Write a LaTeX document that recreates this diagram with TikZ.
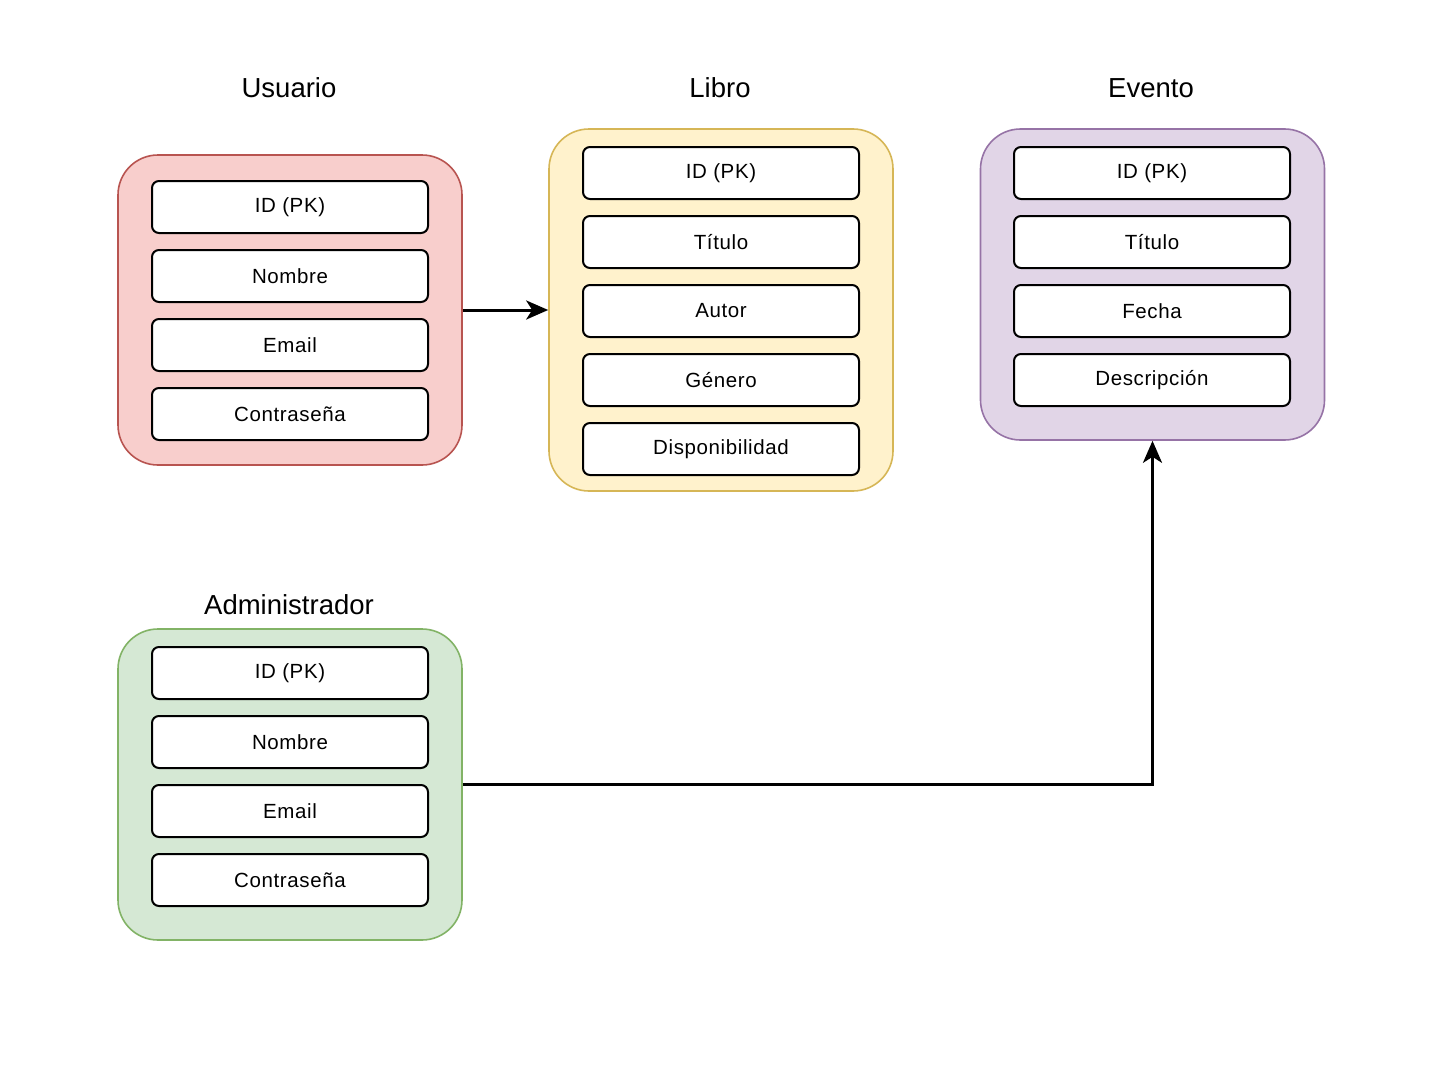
\documentclass[tikz,border=0pt]{standalone}
\usepackage{fontspec}
\setmainfont{Liberation Sans}
\usetikzlibrary{arrows.meta}
\definecolor{redF}{HTML}{F8CECC}\definecolor{redS}{HTML}{B85450}
\definecolor{yelF}{HTML}{FFF2CC}\definecolor{yelS}{HTML}{D6B656}
\definecolor{purF}{HTML}{E1D5E7}\definecolor{purS}{HTML}{9673A6}
\definecolor{grnF}{HTML}{D5E8D4}\definecolor{grnS}{HTML}{82B366}
\begin{document}
\begin{tikzpicture}[x=1pt,y=-1pt,
  field/.style={draw=black,fill=white,line width=2pt,rounded corners=7pt,minimum width=276pt,minimum height=52pt,inner sep=0pt,font=\fontsize{20.5}{24}\selectfont\addfontfeatures{LetterSpace=3}},
  group/.style={line width=1.6pt,rounded corners=40pt,minimum width=344pt,inner sep=0pt},
  title/.style={font=\fontsize{27.5}{32}\selectfont,inner sep=0pt},
  conn/.style={line width=3pt,-{Stealth[length=22pt,width=19pt,inset=6pt]}}]
\useasboundingbox[fill=white] (0,0) rectangle (1440,1065);
% containers
\node[group,draw=redS,fill=redF,minimum height=310pt] (usuario) at (290,310) {};
\node[group,draw=yelS,fill=yelF,minimum height=362pt] (libro) at (721,310) {};
\node[group,draw=purS,fill=purF,minimum height=311pt] (evento) at (1152.5,284.5) {};
\node[group,draw=grnS,fill=grnF,minimum height=311pt] (admin) at (290,784.5) {};
% titles
\node[title] (tU) at (289,88) {Usuario};
\node[title] (tL) at (720,88) {Libro};
\node[title] (tE) at (1151,88) {Evento};
\node[title] (tA) at (289,605) {Administrador};
% Usuario fields
\node[field] (u1) at (290,207) {ID (PK)};
\node[field] (u2) at (290,276) {Nombre};
\node[field] (u3) at (290,345) {Email};
\node[field] (u4) at (290,414) {Contraseña};
% Libro fields
\node[field] (l1) at (721,173) {ID (PK)};
\node[field] (l2) at (721,242) {Título};
\node[field] (l3) at (721,311) {Autor};
\node[field] (l4) at (721,380) {Género};
\node[field] (l5) at (721,449) {Disponibilidad};
% Evento fields
\node[field] (e1) at (1152,173) {ID (PK)};
\node[field] (e2) at (1152,242) {Título};
\node[field] (e3) at (1152,311) {Fecha};
\node[field] (e4) at (1152,380) {Descripción};
% Administrador fields
\node[field] (a1) at (290,673) {ID (PK)};
\node[field] (a2) at (290,742) {Nombre};
\node[field] (a3) at (290,811) {Email};
\node[field] (a4) at (290,880) {Contraseña};
% connectors
\draw[conn] (usuario.east) -- (usuario.east -| libro.west);
\draw[conn] (admin.east) -| (evento.south);
\end{tikzpicture}
\end{document}
